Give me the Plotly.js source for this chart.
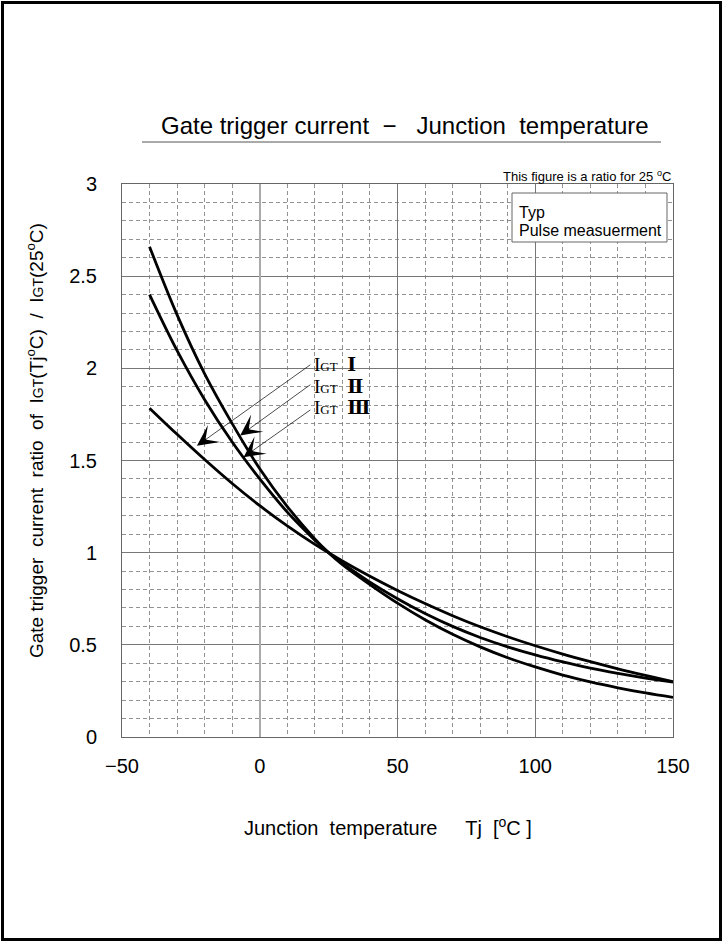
<!DOCTYPE html>
<html>
<head>
<meta charset="utf-8">
<script src="https://cdn.plot.ly/plotly-3.0.1.min.js"></script>
<style>
html,body{margin:0;padding:0;background:#fff;}
#chart{width:723px;height:942px;}
</style>
</head>
<body>
<div id="chart"></div>
<script>
// ---- data ----
const temps = [-40,-30,-20,-10,0,10,20,25,30,40,50,60,70,80,90,100,110,120,130,140,150];
const igt1 = [1.784,1.642,1.505,1.375,1.255,1.145,1.045,1.0,0.955,0.872,0.795,0.724,0.658,0.598,0.544,0.495,0.45,0.409,0.37,0.334,0.30];
const igt2 = [2.66,2.29,1.97,1.70,1.455,1.25,1.075,1.0,0.935,0.827,0.726,0.636,0.557,0.489,0.43,0.38,0.336,0.299,0.267,0.239,0.215];
const igt3 = [2.40,2.096,1.83,1.60,1.40,1.22,1.068,1.0,0.943,0.84,0.75,0.67,0.60,0.54,0.489,0.445,0.407,0.373,0.345,0.32,0.298];
const seriesNames = ["IGT I","IGT II","IGT III"];
// label leader lines
const leaderStartT = [18.9, 18.9, 18.9];
const leaderStartV = [2.025, 1.917, 1.78];
const leaderTipT = [-22.8, -7.1, -5.9];
const leaderTipV = [1.58, 1.636, 1.518];
const labelTexts = ["I<span style='font-size:13px'>GT</span>\u00a0\u00a0<b>Ⅰ</b>","I<span style='font-size:13px'>GT</span>\u00a0\u00a0<b>Ⅱ</b>","I<span style='font-size:13px'>GT</span>\u00a0\u00a0<b>Ⅲ</b>"];
const xTickVals = [-50,0,50,100,150];
const yTickVals = [0,0.5,1,1.5,2,2.5,3];
const yTickText = ["0","0.5","1","1.5","2","2.5","3"];

// ---- geometry helpers (pixel -> paper) ----
const L = 122, R = 673, T = 184, B = 737, W = 723, H = 942;
const px = x => (x - L) / (R - L);
const py = y => (B - y) / (B - T);

const lineStyle = {color:'#000', width:2.8, shape:'spline', smoothing:1};
const traces = [igt1, igt2, igt3].map((v,i)=>({
  x: temps, y: v, type:'scatter', mode:'lines', name: seriesNames[i],
  line: lineStyle, hoverinfo:'skip'
}));

const FONT = '"Liberation Sans", Arial, sans-serif';
const annotations = [];
// title
annotations.push({xref:'paper', yref:'paper', x:px(405), y:py(125), xanchor:'center', yanchor:'middle',
  text:'Gate trigger current\u00a0\u00a0−\u00a0\u00a0\u00a0Junction\u00a0\u00a0temperature', showarrow:false,
  font:{family:FONT, size:24, color:'#000'}});
// note
annotations.push({xref:'paper', yref:'paper', x:1.0, y:py(176), xanchor:'right', yanchor:'middle',
  text:'This figure is a ratio for 25 <sup>o</sup>C', showarrow:false, font:{family:FONT, size:13, color:'#000'}});
// legend box text
annotations.push({xref:'paper', yref:'paper', x:px(517), y:py(212), xanchor:'left', yanchor:'middle', align:'left',
  text:'Typ', showarrow:false, font:{family:FONT, size:16, color:'#000'}});
annotations.push({xref:'paper', yref:'paper', x:px(517), y:py(230), xanchor:'left', yanchor:'middle', align:'left',
  text:'Pulse measuerment', showarrow:false, font:{family:FONT, size:16, color:'#000'}});
// y title
annotations.push({xref:'paper', yref:'paper', x:px(35), y:py(441), xanchor:'center', yanchor:'middle', textangle:-90,
  text:'Gate trigger\u00a0\u00a0current\u00a0\u00a0ratio\u00a0\u00a0of\u00a0\u00a0I<span style="font-size:14px">GT</span>(Tj<sup>o</sup>C)\u00a0\u00a0/\u00a0\u00a0I<span style="font-size:14px">GT</span>(25<sup>o</sup>C)',
  showarrow:false, font:{family:FONT, size:19, color:'#000'}});
// x title
annotations.push({xref:'paper', yref:'paper', x:px(388), y:py(826), xanchor:'center', yanchor:'middle',
  text:'Junction\u00a0\u00a0temperature\u00a0\u00a0\u00a0\u00a0\u00a0Tj\u00a0\u00a0[<sup>o</sup>C ]', showarrow:false,
  font:{family:FONT, size:20, color:'#000'}});
// leaders + labels
const labelY = [364, 386, 407];
for (let i=0;i<3;i++){
  annotations.push({xref:'x', yref:'y', axref:'x', ayref:'y', x:leaderTipT[i], y:leaderTipV[i],
    ax:leaderStartT[i], ay:leaderStartV[i], text:'', showarrow:true, arrowhead:3, arrowsize:5,
    arrowwidth:0.7, arrowcolor:'#000', standoff:0, startstandoff:0});
  annotations.push({xref:'paper', yref:'paper', x:px(312), y:py(labelY[i]), xanchor:'left', yanchor:'middle',
    text:labelTexts[i], showarrow:false, font:{family:'"Liberation Serif", "DejaVu Serif", serif', size:19, color:'#000'}});
}

const shapes = [
  // outer frame
  {type:'rect', xref:'paper', yref:'paper', x0:px(2.5), x1:px(720.5), y0:py(939.5), y1:py(2.5), line:{color:'#000', width:3}, layer:'above'},
  // title underline
  {type:'line', xref:'paper', yref:'paper', x0:px(142), x1:px(661), y0:py(142), y1:py(142), line:{color:'#555', width:1}},
  // legend box
  {type:'rect', xref:'paper', yref:'paper', x0:px(512), x1:px(667), y0:py(242), y1:py(193), fillcolor:'#fff', line:{color:'#666', width:1}, layer:'above'}
];

const layout = {
  width:W, height:H,
  margin:{l:L, r:W-R, t:T, b:H-B, pad:0},
  paper_bgcolor:'#fff', plot_bgcolor:'#fff',
  showlegend:false,
  font:{family:FONT, color:'#000'},
  xaxis:{range:[-50,150], tickvals:xTickVals, showgrid:true, gridcolor:'#777', gridwidth:1,
    zeroline:true, zerolinecolor:'#aaa', zerolinewidth:2,
    showline:true, mirror:true, linecolor:'#666', linewidth:1,
    ticks:'', ticklabelstandoff:11,
    tickfont:{family:FONT, size:20, color:'#000'},
    minor:{dtick:10, tick0:0, showgrid:true, gridcolor:'#777', griddash:'4px,3px', gridwidth:0.8, ticks:''},
    fixedrange:true},
  yaxis:{range:[0,3], tickvals:yTickVals, ticktext:yTickText, showgrid:true, gridcolor:'#777', gridwidth:1,
    zeroline:false, showline:true, mirror:true, linecolor:'#666', linewidth:1,
    ticks:'', ticklabelstandoff:20,
    tickfont:{family:FONT, size:20, color:'#000'},
    minor:{dtick:0.1, tick0:0, showgrid:true, gridcolor:'#777', griddash:'4px,3px', gridwidth:0.8, ticks:''},
    fixedrange:true},
  annotations: annotations,
  shapes: shapes
};

Plotly.newPlot('chart', traces, layout, {displayModeBar:false, staticPlot:true});
</script>
</body>
</html>
